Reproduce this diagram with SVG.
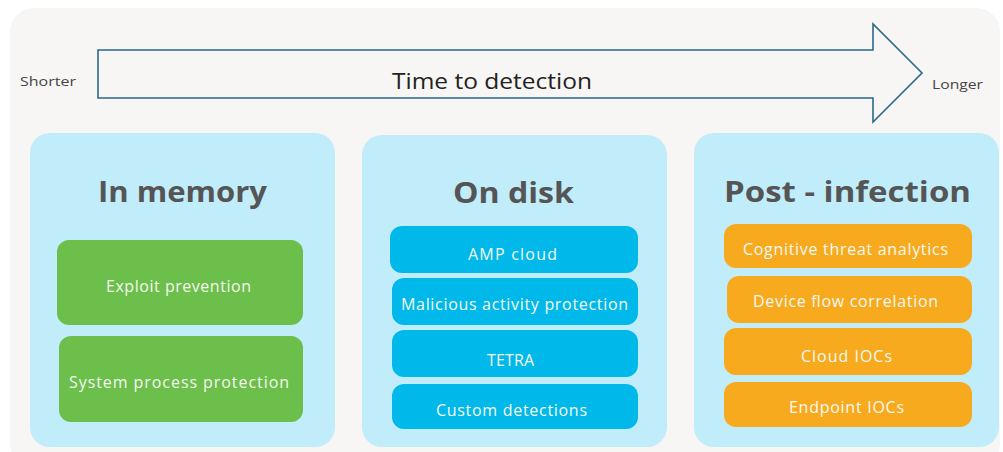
<svg xmlns="http://www.w3.org/2000/svg" width="1003" height="452" viewBox="0 0 1003 452">
  <style>
    .lbl { font-family: "Open Sans", "Noto Sans", sans-serif; }
    .side { font-size: 13px; fill: #444444; }
    .axis { font-size: 21px; fill: #222222; }
    .title { font-size: 28px; font-weight: bold; fill: #555555; text-anchor: middle; }
    .item { font-size: 16px; fill: #f4f8f0; text-anchor: middle; }
    .panel { fill: #c1ecf9; }
    .green { fill: #6bbf4a; }
    .blue { fill: #00b9ea; }
    .orange { fill: #f8aa1f; }
  </style>

  <!-- page background -->
  <rect x="0" y="0" width="1003" height="452" fill="#ffffff"/>
  <rect x="10" y="8" width="990" height="460" rx="24" fill="#f7f6f4"/>

  <!-- time axis -->
  <g id="time-axis">
    <path d="M98,50 H873 V24 L922,73 L873,122 V98 H98 Z" fill="#f7f6f4" stroke="#2a6a8a" stroke-width="1.6" stroke-linejoin="miter"/>
    <text class="lbl axis" x="392" y="89" textLength="200" lengthAdjust="spacingAndGlyphs">Time to detection</text>
    <text class="lbl side" x="20" y="86" textLength="56" lengthAdjust="spacingAndGlyphs">Shorter</text>
    <text class="lbl side" x="932" y="89" textLength="51" lengthAdjust="spacingAndGlyphs">Longer</text>
  </g>

  <!-- In memory -->
  <g id="in-memory">
    <rect class="panel" x="30" y="133" width="305" height="314" rx="20"/>
    <text class="lbl title" x="182.5" y="202" textLength="169" lengthAdjust="spacingAndGlyphs">In memory</text>
    <g id="exploit-prevention">
      <rect class="green" x="57" y="240" width="246" height="85" rx="12"/>
      <text class="lbl item" x="178.5" y="292" textLength="145" lengthAdjust="spacing">Exploit prevention</text>
    </g>
    <g id="system-process-protection">
      <rect class="green" x="59" y="336" width="244" height="86" rx="12"/>
      <text class="lbl item" x="179" y="388" textLength="220" lengthAdjust="spacing">System process protection</text>
    </g>
  </g>

  <!-- On disk -->
  <g id="on-disk">
    <rect class="panel" x="362" y="135" width="305" height="312" rx="20"/>
    <text class="lbl title" x="513.5" y="203" textLength="121" lengthAdjust="spacingAndGlyphs">On disk</text>
    <g id="amp-cloud">
      <rect class="blue" x="390" y="226" width="248" height="47" rx="12"/>
      <text class="lbl item" x="512.5" y="260" textLength="89" lengthAdjust="spacing">AMP cloud</text>
    </g>
    <g id="malicious-activity-protection">
      <rect class="blue" x="392" y="278" width="246" height="47" rx="12"/>
      <text class="lbl item" x="514.5" y="310" textLength="227" lengthAdjust="spacing">Malicious activity protection</text>
    </g>
    <g id="tetra">
      <rect class="blue" x="392" y="330" width="246" height="47" rx="12"/>
      <text class="lbl item" x="510.5" y="366" textLength="47" lengthAdjust="spacing">TETRA</text>
    </g>
    <g id="custom-detections">
      <rect class="blue" x="392" y="384" width="246" height="45" rx="12"/>
      <text class="lbl item" x="511.5" y="416" textLength="151" lengthAdjust="spacing">Custom detections</text>
    </g>
  </g>

  <!-- Post-infection -->
  <g id="post-infection">
    <rect class="panel" x="694" y="133" width="305" height="314" rx="20"/>
    <text class="lbl title" x="847.5" y="202" textLength="247" lengthAdjust="spacingAndGlyphs">Post - infection</text>
    <g id="cognitive-threat-analytics">
      <rect class="orange" x="724" y="224" width="248" height="44" rx="12"/>
      <text class="lbl item" x="845.5" y="255" textLength="205" lengthAdjust="spacing">Cognitive threat analytics</text>
    </g>
    <g id="device-flow-correlation">
      <rect class="orange" x="727" y="276" width="245" height="47" rx="12"/>
      <text class="lbl item" x="845.5" y="307" textLength="185" lengthAdjust="spacing">Device flow correlation</text>
    </g>
    <g id="cloud-iocs">
      <rect class="orange" x="724" y="328" width="248" height="47" rx="12"/>
      <text class="lbl item" x="846.5" y="362" textLength="91" lengthAdjust="spacing">Cloud IOCs</text>
    </g>
    <g id="endpoint-iocs">
      <rect class="orange" x="724" y="382" width="248" height="45" rx="12"/>
      <text class="lbl item" x="846.5" y="413" textLength="115" lengthAdjust="spacing">Endpoint IOCs</text>
    </g>
  </g>

  <!-- no connectors between nodes -->
  <g id="connectors"/>
</svg>
